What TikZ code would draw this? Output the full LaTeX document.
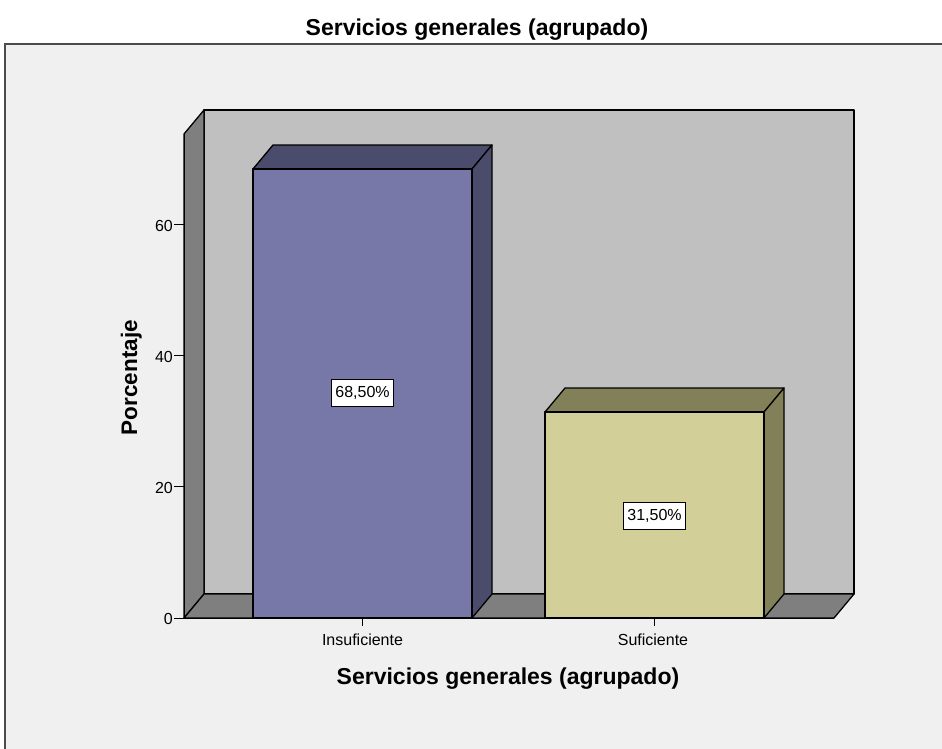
\documentclass[tikz,border=0pt]{standalone}
\usepackage{fontspec}
\setmainfont{Liberation Sans}
\usepackage{tikz}
\definecolor{canvas}{HTML}{F0F0F0}
\definecolor{wallback}{HTML}{C0C0C0}
\definecolor{wallside}{HTML}{7F7F7F}
\definecolor{insufront}{HTML}{7878A8}
\definecolor{insudark}{HTML}{4B4B6B}
\definecolor{sufifront}{HTML}{D3CF98}
\definecolor{sufidark}{HTML}{828058}
\tikzstyle{face} = [draw=black, line width=1.3pt, line join=round]
\tikzstyle{tick} = [draw=black, line width=1pt]
\tikzstyle{ticklbl} = [font={\fontsize{16}{16}\selectfont}, inner sep=0pt]
\tikzstyle{vallbl} = [draw=black, fill=white, font={\fontsize{16}{16}\selectfont}, inner xsep=3.5pt, minimum height=27pt, line width=0.8pt]
\tikzstyle{axtitle} = [font={\fontsize{23}{23}\selectfont\bfseries}, inner sep=0pt, anchor=base]

\begin{document}
\begin{tikzpicture}[x=1pt, y=-1pt]
    \clip (0,0) rectangle (942,748);
    \fill[white] (0,0) rectangle (942,748);
    % chart frame
    \draw[fill=canvas, draw=gray!60!black, line width=1.5pt] (5,44) rectangle (960,770);
    \node[axtitle](title) at (477,35.5){Servicios generales (agrupado)};
    % walls and floor
    \draw[face, fill=wallback] (204,110) rectangle (854,594);
    \draw[face, fill=wallside] (184,134) -- (204,110) -- (204,594) -- (184,618) -- cycle;
    \draw[face, fill=wallside] (184,618) -- (204,594) -- (854,594) -- (834,618) -- cycle;
    % Insuficiente
    \draw[face, fill=insudark] (253,169) -- (273,145) -- (492,145) -- (472,169) -- cycle;
    \draw[face, fill=insudark] (472,169) -- (492,145) -- (492,594) -- (472,618) -- cycle;
    \draw[face, fill=insufront] (253,169) rectangle (472,618);
    % Suficiente
    \draw[face, fill=sufidark] (545,412) -- (565,388) -- (784,388) -- (764,412) -- cycle;
    \draw[face, fill=sufidark] (764,412) -- (784,388) -- (784,594) -- (764,618) -- cycle;
    \draw[face, fill=sufifront] (545,412) rectangle (764,618);
    % axes
    \draw[tick] (184,134) -- (184,618);
    \draw[tick] (174,618) -- (834,618);
    \foreach \v in {0,20,40,60} {
        \draw[tick] (174,{618-6.555*\v}) -- (184,{618-6.555*\v});
        \node[ticklbl, anchor=east](y\v) at (173,{618-6.555*\v+1}){\v};
    }
    \draw[tick] (362.5,618) -- (362.5,626);
    \draw[tick] (654.5,618) -- (654.5,626);
    \node[ticklbl, anchor=base](insu) at (362.5,645){Insuficiente};
    \node[ticklbl, anchor=base](sufi) at (653,645){Suficiente};
    \node[vallbl](v1) at (362.5,393){68,50\%};
    \node[vallbl](v2) at (654.5,515.5){31,50\%};
    \node[axtitle](xtitle) at (508,684){Servicios generales (agrupado)};
    \node[axtitle, font={\fontsize{22.5}{22.5}\selectfont\bfseries}, rotate=90](ytitle) at (137,377.5){Porcentaje};
  \end{tikzpicture}
\end{document}
